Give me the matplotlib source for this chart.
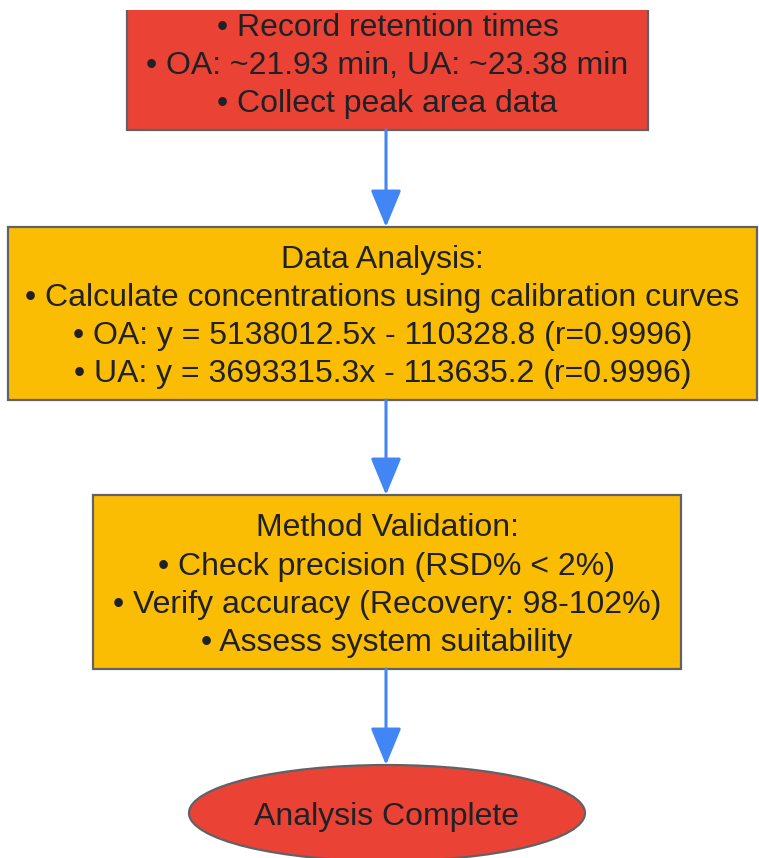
import matplotlib.pyplot as plt
from matplotlib.patches import Rectangle, Ellipse, FancyArrowPatch

plt.rcParams['font.family'] = ['Liberation Sans', 'DejaVu Sans']

# node texts, top to bottom
node_labels = [
    ['• Record retention times', '• OA: ~21.93 min, UA: ~23.38 min', '• Collect peak area data'],
    ['Data Analysis:', '• Calculate concentrations using calibration curves',
     '• OA: y = 5138012.5x - 110328.8 (r=0.9996)', '• UA: y = 3693315.3x - 113635.2 (r=0.9996)'],
    ['Method Validation:', '• Check precision (RSD% < 2%)',
     '• Verify accuracy (Recovery: 98-102%)', '• Assess system suitability'],
    ['Analysis Complete'],
]
node_shapes = ['box', 'box', 'box', 'ellipse']
node_colors = ['#EA4335', '#FBBC04', '#FBBC04', '#EA4335']

# layout in pixel coordinates (x0, y0, x1, y1); the first node is cut off by the top edge
boxes = [(127, -5, 648, 130), (8, 227, 757, 400), (93, 495, 681, 669), (189, 765, 585, 861)]
line_gap = 38
edge_col = '#5F6368'
text_col = '#202124'
arrow_col = '#4285F4'

fig = plt.figure(figsize=(7.59, 8.58), dpi=100)
ax = fig.add_axes([0, 0, 1, 848 / 858])
ax.set_xlim(0, 759)
ax.set_ylim(858, 10)
ax.axis('off')

for lines, shape, col, (x0, y0, x1, y1) in zip(node_labels, node_shapes, node_colors, boxes):
    cx = (x0 + x1) / 2
    cy = (y0 + y1) / 2
    if shape == 'box':
        ax.add_patch(Rectangle((x0, y0), x1 - x0, y1 - y0, facecolor=col,
                               edgecolor=edge_col, linewidth=1.6))
    else:
        ax.add_patch(Ellipse((cx, cy), x1 - x0, y1 - y0, facecolor=col,
                             edgecolor=edge_col, linewidth=1.6))
    n = len(lines)
    for i, t in enumerate(lines):
        ty = cy + 3.5 + (i - (n - 1) / 2) * line_gap
        ax.text(cx, ty, t, ha='center', va='center', fontsize=23, color=text_col)

# arrows between nodes
for a, b in zip(boxes[:-1], boxes[1:]):
    ax.add_patch(FancyArrowPatch((386, a[3]), (386, b[1]),
                                 arrowstyle='-|>,head_length=23,head_width=9.5',
                                 mutation_scale=1, color=arrow_col, linewidth=2.2,
                                 shrinkA=0, shrinkB=0))

fig.savefig('out.png', dpi=100)
